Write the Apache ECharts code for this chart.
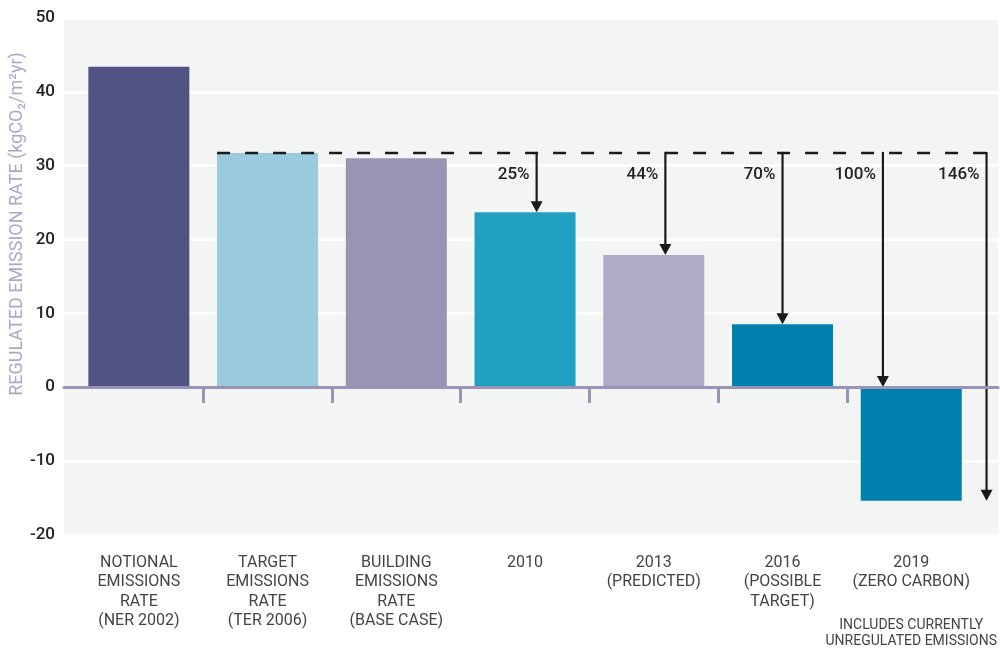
<!DOCTYPE html>
<html>
<head>
<meta charset="utf-8">
<title>Regulated emission rate</title>
<script src="https://cdn.jsdelivr.net/npm/echarts@6/dist/echarts.min.js"></script>
<style>
  html, body { margin: 0; padding: 0; background: #ffffff; }
  #chart { width: 1000px; height: 648px; }
</style>
</head>
<body>
<div id="chart"></div>
<script>
// Category labels (one entry per bar, lines split with \n)
const categories = [
  'NOTIONAL\nEMISSIONS\nRATE\n(NER 2002)',
  'TARGET\nEMISSIONS\nRATE\n(TER 2006)',
  'BUILDING\nEMISSIONS\nRATE\n(BASE CASE)',
  '2010',
  '2013\n(PREDICTED)',
  '2016\n(POSSIBLE\nTARGET)',
  '2019\n(ZERO CARBON)'
];
// Footnote printed under the last category
const lastCategoryNote = 'INCLUDES CURRENTLY\nUNREGULATED EMISSIONS';

// Regulated emission rate, kgCO2/m2yr
const emissionRates = [43.4, 31.7, 31.0, 23.7, 17.9, 8.5, -15.4];

// Target emission rate that the reductions are measured from
const targetRate = 31.7;

// Reduction arrows: label and the value each arrow points down to
const reductionLabels = ['25%', '44%', '70%', '100%', '146%'];
const reductionEnds = [23.7, 17.9, 8.5, 0, -15.4];

// Y axis range
const yMin = -20, yMax = 50, yStep = 10;

// ---- layout & style ----
const barColors = ['#4f5485', '#99cadd', '#9894b4', '#20a0c1', '#afabc6', '#0080ad', '#0080ad'];
// horizontal position of each arrow, in category units (0 = left edge of first band)
const arrowAt = [3.59, 4.59, 5.50, 6.28, 7.085];
const X_MIN = -0.0814, X_MAX = 7.1744;
const BAR_W = 101;
const FONT = 'Roboto, "Noto Sans", sans-serif';
const INK = '#1a1a1a';
const AXIS_COLOR = '#9994b5';

const chart = echarts.init(document.getElementById('chart'), null, { renderer: 'canvas' });

function categoryLabel(v) {
  const i = Math.round(v - 0.5);
  const lines = (categories[i] || '').split('\n').map(s => '{c|' + s + '}');
  let out = lines.join('\n');
  if (i === categories.length - 1) {
    out += '\n{g| }\n' + lastCategoryNote.split('\n').map(s => '{n|' + s + '}').join('\n');
  }
  return out;
}

const option = {
  animation: false,
  grid: {
    left: 64, right: 0, top: 18, bottom: 113,
    show: true, backgroundColor: '#f3f5f5', borderWidth: 0
  },
  xAxis: [
    {
      // category labels along the bottom of the plot
      type: 'value', position: 'bottom', min: X_MIN, max: X_MAX,
      axisLine: { show: false, onZero: false },
      axisTick: { show: false },
      splitLine: { show: false },
      axisLabel: {
        customValues: categories.map((c, i) => i + 0.5),
        margin: 18,
        formatter: categoryLabel,
        rich: {
          c: { fontFamily: FONT, fontSize: 16, lineHeight: 19.5, color: '#444444' },
          g: { fontSize: 10, lineHeight: 26 },
          n: { fontFamily: FONT, fontSize: 14, lineHeight: 15.5, color: '#444444' }
        }
      }
    },
    {
      // zero line with band separators
      type: 'value', position: 'top', min: X_MIN, max: X_MAX, z: 10,
      axisLine: { show: true, onZero: true, lineStyle: { color: AXIS_COLOR, width: 3 } },
      axisTick: {
        show: true, inside: true, length: 16,
        customValues: [1, 2, 3, 4, 5, 6],
        lineStyle: { color: AXIS_COLOR, width: 3 }
      },
      axisLabel: { show: false },
      splitLine: { show: false }
    }
  ],
  yAxis: {
    type: 'value', min: yMin, max: yMax, interval: yStep,
    axisLine: { show: false },
    axisTick: { show: false },
    axisLabel: { margin: 9, color: '#222222', fontFamily: FONT, fontSize: 17, fontWeight: 500 },
    splitLine: { lineStyle: { color: '#ffffff', width: 3 } }
  },
  graphic: [{
    type: 'text',
    x: 17, y: 224, rotation: Math.PI / 2,
    style: {
      text: 'REGULATED EMISSION RATE (kgCO₂/m²yr)',
      fill: '#aba7c7',
      font: '18px ' + FONT,
      textAlign: 'center',
      textVerticalAlign: 'middle'
    }
  }],
  series: [
    {
      type: 'bar',
      xAxisIndex: 0, yAxisIndex: 0,
      barWidth: BAR_W,
      z: 2,
      data: emissionRates.map((v, i) => ({ value: [i + 0.5, v], itemStyle: { color: barColors[i] } }))
    },
    {
      // dashed target level, from the TER bar to the right edge
      type: 'custom',
      xAxisIndex: 0, yAxisIndex: 0, z: 4, silent: true,
      data: [[1.5, targetRate]],
      renderItem: function (params, api) {
        const p = api.coord([api.value(0), api.value(1)]);
        const cs = params.coordSys;
        return {
          type: 'line',
          shape: { x1: p[0] - BAR_W / 2, y1: p[1], x2: cs.x + cs.width, y2: p[1] },
          style: { stroke: INK, lineWidth: 2.5, lineDash: [13, 15], lineCap: 'butt' }
        };
      }
    },
    {
      // reduction arrows with percentage labels
      type: 'custom',
      xAxisIndex: 0, yAxisIndex: 0, z: 5, silent: true,
      data: arrowAt.map((x, i) => [x, reductionEnds[i]]),
      renderItem: function (params, api) {
        const x = api.value(0);
        const top = api.coord([x, targetRate]);
        const tip = api.coord([x, api.value(1)]);
        const hw = 6, hh = 11;
        return {
          type: 'group',
          children: [
            {
              type: 'line',
              shape: { x1: top[0], y1: top[1] - 1.2, x2: tip[0], y2: tip[1] - hh + 1 },
              style: { stroke: INK, lineWidth: 2.2 }
            },
            {
              type: 'polygon',
              shape: { points: [[tip[0] - hw, tip[1] - hh], [tip[0] + hw, tip[1] - hh], [tip[0], tip[1]]] },
              style: { fill: INK }
            },
            {
              type: 'text',
              x: top[0] - 7, y: top[1] + 22,
              style: {
                text: reductionLabels[params.dataIndex],
                textAlign: 'right', textVerticalAlign: 'middle',
                fill: '#222222', font: '500 17px ' + FONT
              }
            }
          ]
        };
      }
    }
  ]
};

chart.setOption(option);
</script>
</body>
</html>
